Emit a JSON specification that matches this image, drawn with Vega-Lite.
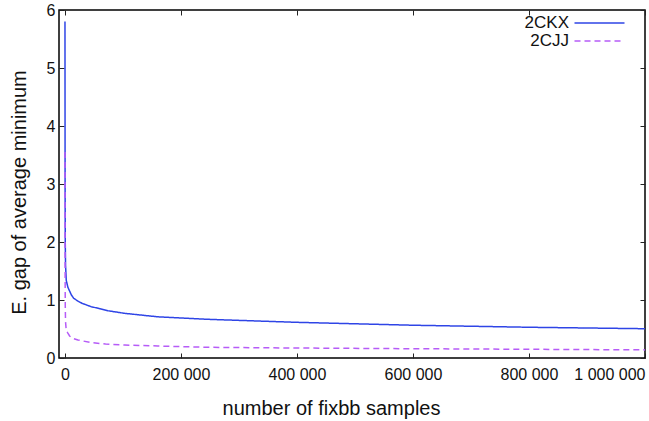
{
  "$schema": "https://vega.github.io/schema/vega-lite/v6.json",
  "width": 586,
  "height": 348,
  "autosize": {"type": "none"},
  "padding": {"left": 59, "top": 10, "right": 4, "bottom": 63},
  "background": "white",
  "config": {
    "view": {"stroke": "#000", "strokeWidth": 1.5},
    "font": "Liberation Sans",
    "axis": {
      "grid": false,
      "domain": false,
      "tickColor": "#222",
      "tickSize": -5,
      "tickWidth": 1,
      "labelFont": "Liberation Sans",
      "labelFontSize": 16,
      "labelColor": "#111",
      "labelOverlap": false,
      "titleFont": "Liberation Sans",
      "titleFontSize": 20,
      "titleFontWeight": "normal",
      "titleColor": "#111"
    }
  },
  "data": {
    "values": [
      {"n": 1, "s": "2CKX", "v": 5.8},
      {"n": 200, "s": "2CKX", "v": 3.0},
      {"n": 500, "s": "2CKX", "v": 2.0},
      {"n": 1000, "s": "2CKX", "v": 1.6},
      {"n": 2200, "s": "2CKX", "v": 1.34},
      {"n": 5000, "s": "2CKX", "v": 1.22},
      {"n": 10900, "s": "2CKX", "v": 1.09},
      {"n": 15000, "s": "2CKX", "v": 1.03},
      {"n": 22400, "s": "2CKX", "v": 0.98},
      {"n": 30000, "s": "2CKX", "v": 0.94},
      {"n": 45300, "s": "2CKX", "v": 0.885},
      {"n": 60000, "s": "2CKX", "v": 0.85},
      {"n": 74000, "s": "2CKX", "v": 0.815},
      {"n": 103000, "s": "2CKX", "v": 0.77},
      {"n": 160000, "s": "2CKX", "v": 0.71},
      {"n": 246000, "s": "2CKX", "v": 0.667},
      {"n": 400000, "s": "2CKX", "v": 0.615},
      {"n": 600000, "s": "2CKX", "v": 0.565},
      {"n": 800000, "s": "2CKX", "v": 0.53},
      {"n": 1000000, "s": "2CKX", "v": 0.505},
      {"n": 1, "s": "2CJJ", "v": 3.55},
      {"n": 200, "s": "2CJJ", "v": 1.6},
      {"n": 500, "s": "2CJJ", "v": 0.9},
      {"n": 1000, "s": "2CJJ", "v": 0.62},
      {"n": 2200, "s": "2CJJ", "v": 0.48},
      {"n": 5000, "s": "2CJJ", "v": 0.43},
      {"n": 8000, "s": "2CJJ", "v": 0.38},
      {"n": 12000, "s": "2CJJ", "v": 0.345},
      {"n": 22400, "s": "2CJJ", "v": 0.31},
      {"n": 45300, "s": "2CJJ", "v": 0.265},
      {"n": 70000, "s": "2CJJ", "v": 0.24},
      {"n": 103000, "s": "2CJJ", "v": 0.224},
      {"n": 160000, "s": "2CJJ", "v": 0.207},
      {"n": 246000, "s": "2CJJ", "v": 0.184},
      {"n": 400000, "s": "2CJJ", "v": 0.172},
      {"n": 600000, "s": "2CJJ", "v": 0.16},
      {"n": 800000, "s": "2CJJ", "v": 0.15},
      {"n": 1000000, "s": "2CJJ", "v": 0.14}
    ]
  },
  "layer": [
    {
      "mark": {"type": "line", "strokeWidth": 1.5, "clip": true},
      "encoding": {
        "x": {
          "field": "n", "type": "quantitative",
          "scale": {"domain": [-10300, 1000000], "nice": false, "zero": false},
          "axis": {
            "title": "number of fixbb samples",
            "values": [0, 200000, 400000, 600000, 800000, 1000000],
            "labelExpr": "replace(format(datum.value, ','), regexp(',', 'g'), ' ')",
            "labelFlush": true,
            "labelPadding": 13,
            "titlePadding": 16,
            "titleX": 272
          }
        },
        "y": {
          "field": "v", "type": "quantitative",
          "scale": {"domain": [0, 6], "nice": false},
          "axis": {
            "title": "E. gap of average minimum",
            "values": [0, 1, 2, 3, 4, 5, 6],
            "format": "d",
            "labelPadding": 9,
            "titlePadding": 17,
            "titleY": 182
          }
        },
        "color": {
          "field": "s", "type": "nominal",
          "scale": {"domain": ["2CKX", "2CJJ"], "range": ["#2f45e6", "#b65cf7"]},
          "legend": {
            "title": null,
            "orient": "none",
            "legendX": 532,
            "legendY": 4.5,
            "padding": 0,
            "symbolType": "M-5,0H5",
            "symbolSize": 100,
            "symbolStrokeWidth": 1.5,
            "labelAlign": "right",
            "labelOffset": -39,
            "labelFontSize": 17,
            "labelFont": "Liberation Sans",
            "labelColor": "#111",
            "rowPadding": 0
          }
        },
        "strokeDash": {
          "field": "s", "type": "nominal",
          "scale": {"domain": ["2CKX", "2CJJ"], "range": [[1, 0], [6, 4]]},
          "legend": {
            "title": null,
            "orient": "none",
            "legendX": 532,
            "legendY": 4.5,
            "padding": 0,
            "symbolType": "M-5,0H5",
            "symbolSize": 100,
            "symbolStrokeWidth": 1.5,
            "labelAlign": "right",
            "labelOffset": -39,
            "labelFontSize": 17,
            "labelFont": "Liberation Sans",
            "labelColor": "#111",
            "rowPadding": 0
          }
        }
      }
    },
    {
      "mark": {"type": "line", "opacity": 0},
      "encoding": {
        "x": {
          "field": "n", "type": "quantitative",
          "axis": {"orient": "top", "title": null, "labels": false, "values": [0, 200000, 400000, 600000, 800000, 1000000]}
        },
        "y": {
          "field": "v", "type": "quantitative",
          "axis": {"orient": "right", "title": null, "labels": false, "values": [0, 1, 2, 3, 4, 5, 6]}
        },
        "detail": {"field": "s"}
      }
    }
  ],
  "resolve": {"axis": {"x": "independent", "y": "independent"}}
}
